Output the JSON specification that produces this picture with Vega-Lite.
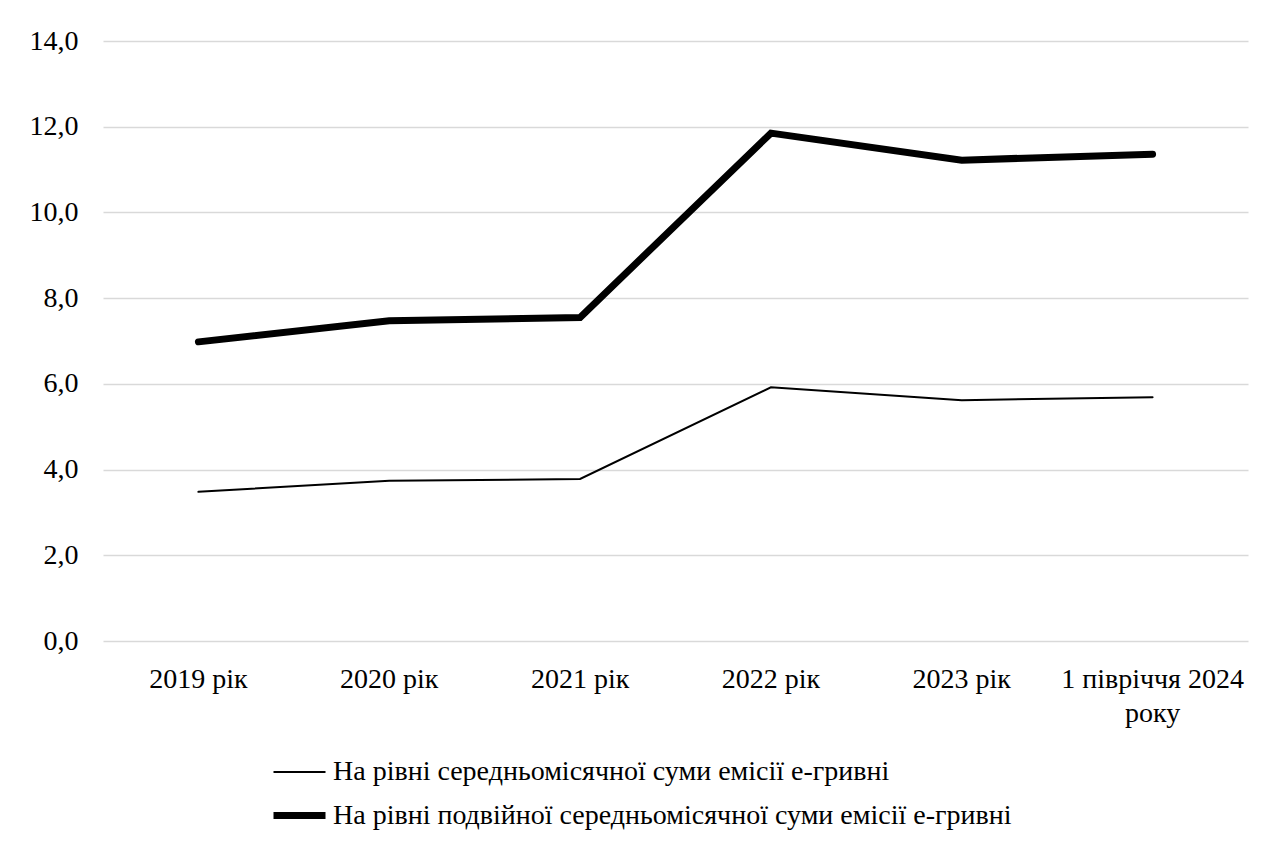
{
  "$schema": "https://vega.github.io/schema/vega-lite/v6.json",
  "width": 1145,
  "height": 600,
  "autosize": {"type": "none"},
  "padding": {"left": 103, "top": 41, "right": 37, "bottom": 204},
  "background": "white",
  "config": {
    "view": {"stroke": null},
    "font": "'Liberation Serif', 'DejaVu Serif', serif",
    "axis": {"labelFont": "'Liberation Serif', 'DejaVu Serif', serif", "labelColor": "black", "labelFontSize": 28, "labelLimit": 1000},
    "legend": {"labelFont": "'Liberation Serif', 'DejaVu Serif', serif", "labelColor": "black", "labelFontSize": 28}
  },
  "data": {
    "values": [
      {"period": "2019 рік", "series": "На рівні середньомісячної суми емісії е-гривні", "value": 3.48},
      {"period": "2020 рік", "series": "На рівні середньомісячної суми емісії е-гривні", "value": 3.74},
      {"period": "2021 рік", "series": "На рівні середньомісячної суми емісії е-гривні", "value": 3.78},
      {"period": "2022 рік", "series": "На рівні середньомісячної суми емісії е-гривні", "value": 5.92},
      {"period": "2023 рік", "series": "На рівні середньомісячної суми емісії е-гривні", "value": 5.62},
      {"period": "1 півріччя 2024 року", "series": "На рівні середньомісячної суми емісії е-гривні", "value": 5.69},
      {"period": "2019 рік", "series": "На рівні подвійної середньомісячної суми емісії е-гривні", "value": 6.98},
      {"period": "2020 рік", "series": "На рівні подвійної середньомісячної суми емісії е-гривні", "value": 7.47},
      {"period": "2021 рік", "series": "На рівні подвійної середньомісячної суми емісії е-гривні", "value": 7.55},
      {"period": "2022 рік", "series": "На рівні подвійної середньомісячної суми емісії е-гривні", "value": 11.85},
      {"period": "2023 рік", "series": "На рівні подвійної середньомісячної суми емісії е-гривні", "value": 11.22},
      {"period": "1 півріччя 2024 року", "series": "На рівні подвійної середньомісячної суми емісії е-гривні", "value": 11.36}
    ]
  },
  "mark": {"type": "line", "color": "black", "strokeCap": "round", "strokeJoin": "miter"},
  "encoding": {
    "x": {
      "field": "period",
      "type": "nominal",
      "sort": null,
      "scale": {"type": "band", "paddingInner": 0, "paddingOuter": 0},
      "axis": {
        "title": null,
        "labelAngle": 0,
        "domain": false,
        "ticks": false,
        "labelPadding": 24,
        "labelLineHeight": 34,
        "labelBaseline": "top",
        "labelLimit": 1000,
        "labelFont": "'Liberation Serif', 'DejaVu Serif', serif",
        "labelExpr": "datum.label == '1 півріччя 2024 року' ? ['1 півріччя 2024', 'року'] : datum.label"
      }
    },
    "y": {
      "field": "value",
      "type": "quantitative",
      "scale": {"domain": [0, 14], "nice": false},
      "axis": {
        "title": null,
        "values": [0, 2, 4, 6, 8, 10, 12, 14],
        "format": ".1f",
        "labelExpr": "replace(datum.label, '.', ',')",
        "labelFont": "'Liberation Serif', 'DejaVu Serif', serif",
        "domain": false,
        "ticks": false,
        "labelPadding": 25,
        "gridColor": "#d9d9d9",
        "gridWidth": 1.5
      }
    },
    "strokeWidth": {
      "field": "series",
      "type": "nominal",
      "scale": {
        "domain": ["На рівні середньомісячної суми емісії е-гривні", "На рівні подвійної середньомісячної суми емісії е-гривні"],
        "range": [2, 7]
      },
      "legend": {
        "title": null,
        "orient": "none",
        "legendX": 167,
        "legendY": 704,
        "direction": "vertical",
        "symbolType": "stroke",
        "symbolSize": 2704,
        "symbolStrokeColor": "black",
        "labelOffset": 4,
        "rowPadding": -2,
        "labelLimit": 1000,
        "labelFont": "'Liberation Serif', 'DejaVu Serif', serif"
      }
    }
  }
}
